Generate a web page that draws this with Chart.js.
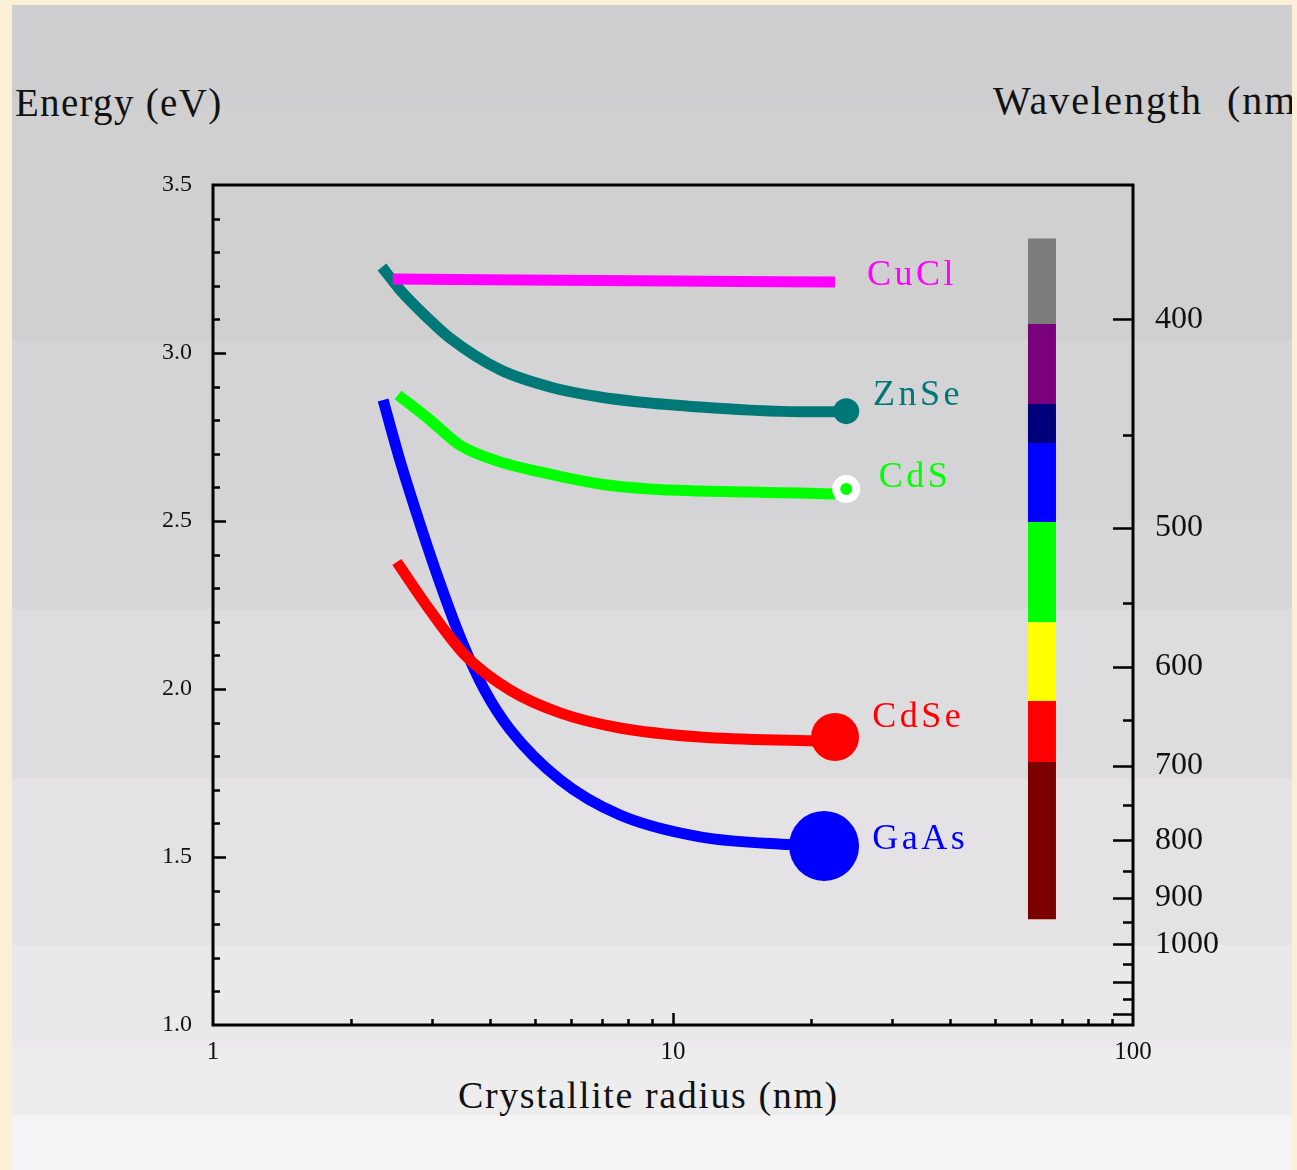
<!DOCTYPE html>
<html><head><meta charset="utf-8">
<script src="https://cdn.jsdelivr.net/npm/chart.js@4.4.1/dist/chart.umd.min.js"></script>
<style>
html,body{margin:0;padding:0;}
body{width:1297px;height:1170px;background:#fcefd8;position:relative;overflow:hidden;font-family:"Liberation Serif","Times New Roman",serif;}
#panel{position:absolute;left:12px;top:5px;width:1280px;height:1165px;overflow:hidden;
background:linear-gradient(to bottom,
#cecdd0 0px,#cecdd0 100px,
#d0d0d0 100px,#d0d0d0 335px,
#d4d3d6 335px,#d4d3d6 515px,
#d7d6d9 515px,#d7d6d9 604px,
#dddcdf 604px,#dddcdf 773px,
#e4e2e5 773px,#e4e2e5 940px,
#eae8eb 940px,#eae8eb 1042px,
#eeedee 1042px,#eeedee 1110px,
#f6f3f7 1110px,#f6f3f7 1165px);}
.ttl{position:absolute;white-space:nowrap;line-height:1;color:#111;font-family:"Liberation Serif","Times New Roman",serif;}
#cv{position:absolute;left:0;top:0;}
</style></head>
<body>
<div id="panel">
  <div class="ttl" style="left:3px;top:78px;font-size:39px;letter-spacing:1.3px;">Energy (eV)</div>
  <div class="ttl" style="left:981px;top:76px;font-size:40px;letter-spacing:2px;word-spacing:12px;">Wavelength (nm)</div>
  <div class="ttl" style="left:446px;top:1071px;font-size:38px;letter-spacing:1.6px;">Crystallite radius (nm)</div>
</div>
<canvas id="cv" width="1297" height="1170"></canvas>
<script>
// ---- axis ticks ----
const radiusTicks = [1, 10, 100];
const energyTicks = [1.0, 1.5, 2.0, 2.5, 3.0, 3.5];
const wavelengthLabels = [400, 500, 600, 700, 800, 900, 1000];
const wavelengthMarks = [400, 450, 500, 550, 600, 650, 700, 750, 800, 850, 900, 950, 1000, 1050, 1100, 1150, 1200];

// ---- series: crystallite radius (nm) vs energy (eV) ----
const cuclR = [2.46, 10, 22.5];
const cuclE = [3.220, 3.214, 3.211];
const znseR = [2.33, 2.55, 2.96, 3.27, 4.21, 5.40, 6.94, 8.91, 11.45, 14.7, 18.9, 23.6];
const znseE = [3.256, 3.188, 3.098, 3.045, 2.950, 2.899, 2.869, 2.851, 2.839, 2.830, 2.825, 2.825];
const cdsR = [2.525, 2.96, 3.44, 4.21, 5.14, 6.94, 8.91, 11.45, 14.7, 18.9, 22.5];
const cdsE = [2.875, 2.801, 2.726, 2.676, 2.646, 2.610, 2.595, 2.589, 2.586, 2.583, 2.580];
const cdseR = [2.51, 2.96, 3.53, 4.42, 5.68, 7.67, 11.45, 20.4];
const cdseE = [2.378, 2.235, 2.101, 1.997, 1.929, 1.884, 1.857, 1.845];
const gaasR = [2.343, 2.55, 2.82, 3.115, 3.48, 3.90, 4.42, 5.68, 7.67, 11.45, 17.96, 21.3];
const gaasE = [2.860, 2.680, 2.490, 2.315, 2.140, 1.995, 1.880, 1.730, 1.625, 1.560, 1.537, 1.533];

// end markers (bulk values)
const dotR = [23.8, 23.8, 22.5, 21.3];
const dotE = [2.827, 2.595, 1.857, 1.533];

// spectrum bar (energy boundaries) at fixed radius
const barR = 63.4;
const barE = [3.341, 3.086, 2.848, 2.732, 2.497, 2.199, 1.964, 1.783, 1.315];
const barColors = ['#7b7d7b', '#7b007b', '#00007b', '#0000ff', '#00ff00', '#ffff00', '#ff0000', '#7b0000'];

// series labels
const labelNames = ['CuCl', 'ZnSe', 'CdS', 'CdSe', 'GaAs'];
const labelR = [26.4, 27.2, 28.0, 27.1, 27.1];
const labelE = [3.232, 2.872, 2.628, 1.914, 1.551];
const seriesColors = ['#ff00ff', '#007878', '#00ff00', '#ff0000', '#0000ff'];

const pts = (xs, ys) => xs.map((x, i) => ({x: x, y: ys[i]}));
const lineDs = (label, xs, ys, color) => ({
  label, data: pts(xs, ys), showLine: true, borderColor: color, backgroundColor: color,
  borderWidth: 11, pointRadius: 0, borderCapStyle: 'butt', borderJoinStyle: 'round',
  cubicInterpolationMode: 'monotone', yAxisID: 'y'
});

const FONT = '"Liberation Serif", "Times New Roman", serif';

const decorPlugin = {
  id: 'decor',
  afterDatasetsDraw(chart) {
    const ctx = chart.ctx, a = chart.chartArea;
    const sx = chart.scales.x, sy = chart.scales.y, sy2 = chart.scales.y2;
    ctx.save();
    ctx.strokeStyle = '#000';
    ctx.lineCap = 'butt';
    // inside ticks
    ctx.lineWidth = 2.5;
    ctx.beginPath();
    for (let i = 11; i < 35; i++) {
      const y = Math.round(sy.getPixelForValue(i / 10)) + 0.5;
      const len = (i % 5 === 0) ? 13 : 7;
      ctx.moveTo(a.left, y); ctx.lineTo(a.left + len, y);
    }
    for (let d = 1; d < 100; d *= 10) {
      for (let k = 1; k <= 9; k++) {
        const v = k * d;
        if (v <= 1) continue;
        const x = Math.round(sx.getPixelForValue(v)) + 0.5;
        const len = (k === 1) ? 12 : 6;
        ctx.moveTo(x, a.bottom); ctx.lineTo(x, a.bottom - len);
      }
    }
    wavelengthMarks.forEach(l => {
      const y = Math.round(sy2.getPixelForValue(1240 / l)) + 0.5;
      const len = (l % 100 === 0) ? 20 : 10;
      ctx.moveTo(a.right, y); ctx.lineTo(a.right - len, y);
    });
    ctx.stroke();
    // frame
    ctx.lineWidth = 3;
    ctx.strokeRect(a.left, a.top, a.right - a.left, a.bottom - a.top);
    // series labels
    ctx.font = '36px ' + FONT;
    ctx.textAlign = 'left';
    ctx.textBaseline = 'middle';
    try { ctx.letterSpacing = '3.5px'; } catch (e) {}
    labelNames.forEach((n, i) => {
      ctx.fillStyle = seriesColors[i];
      ctx.fillText(n, sx.getPixelForValue(labelR[i]), sy.getPixelForValue(labelE[i]));
    });
    ctx.restore();
  }
};

new Chart(document.getElementById('cv'), {
  type: 'scatter',
  data: {
    datasets: [
      {
        label: 'bulk', data: pts(dotR, dotE), showLine: false,
        pointRadius: [13, 10, 24, 35],
        pointBackgroundColor: ['#007878', '#00ff00', '#ff0000', '#0000ff'],
        pointBorderColor: ['#007878', '#ffffff', '#ff0000', '#0000ff'],
        pointBorderWidth: [0, 8, 0, 0], yAxisID: 'y'
      },
      lineDs('CuCl', cuclR, cuclE, seriesColors[0]),
      lineDs('ZnSe', znseR, znseE, seriesColors[1]),
      lineDs('CdS', cdsR, cdsE, seriesColors[2]),
      lineDs('CdSe', cdseR, cdseE, seriesColors[3]),
      lineDs('GaAs', gaasR, gaasE, seriesColors[4]),
      {
        label: 'spectrum', data: barE.map(e => ({x: barR, y: e})), showLine: true,
        borderWidth: 28, borderCapStyle: 'butt', pointRadius: 0, tension: 0,
        borderColor: barColors[0],
        segment: { borderColor: c => barColors[c.p0DataIndex] },
        yAxisID: 'y'
      }
    ]
  },
  options: {
    responsive: false,
    animation: false,
    events: [],
    layout: { padding: { top: 185, left: 0, right: 0, bottom: 0 } },
    plugins: { legend: { display: false }, tooltip: { enabled: false } },
    scales: {
      x: {
        type: 'logarithmic', position: 'bottom', min: 1, max: 100,
        grid: { display: false, drawTicks: false }, border: { display: false },
        afterBuildTicks: s => { s.ticks = radiusTicks.map(v => ({ value: v })); },
        afterFit: s => { s.height = 145; },
        ticks: { color: '#111', padding: 12, font: { family: FONT, size: 25 }, callback: v => String(v), maxRotation: 0, autoSkip: false }
      },
      y: {
        type: 'linear', position: 'left', min: 1, max: 3.5,
        grid: { display: false, drawTicks: false }, border: { display: false },
        afterBuildTicks: s => { s.ticks = energyTicks.map(v => ({ value: v })); },
        afterFit: s => { s.width = 213; },
        ticks: { color: '#111', padding: 21, font: { family: FONT, size: 24 }, callback: v => Number(v).toFixed(1) }
      },
      y2: {
        type: 'linear', position: 'right', min: 1, max: 3.5,
        grid: { display: false, drawTicks: false }, border: { display: false },
        afterBuildTicks: s => { s.ticks = wavelengthLabels.map(l => ({ value: 1240 / l })); },
        afterFit: s => { s.width = 164; },
        ticks: { color: '#111', padding: 22, font: { family: FONT, size: 32 }, callback: v => String(Math.round(1240 / v)), autoSkip: false }
      }
    }
  },
  plugins: [decorPlugin]
});
</script>
</body></html>
